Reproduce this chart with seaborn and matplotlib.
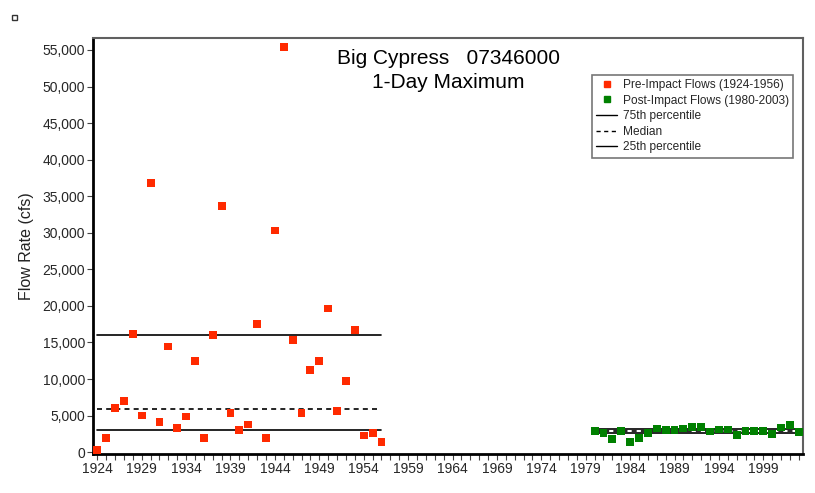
import numpy as np
import pandas as pd
import seaborn as sns
import matplotlib.pyplot as plt
from matplotlib.lines import Line2D
from matplotlib.patches import Rectangle
from matplotlib.ticker import FuncFormatter, MultipleLocator

# data
pre_years = list(range(1924, 1957))
pre_flow = [270, 1960, 6070, 6980, 16140, 5020, 36850, 4100, 14450, 3330,
            4880, 12450, 1960, 16000, 33650, 5330, 3050, 3790, 17510, 1960,
            30320, 55450, 15370, 5330, 11260, 12450, 19650, 5610, 9710, 16740,
            2280, 2600, 1370]
post_years = list(range(1980, 2004))
post_flow = [2870, 2600, 1780, 2870, 1370, 1960, 2650, 3240, 3050, 3050,
             3240, 3420, 3420, 2830, 3100, 3100, 2370, 2870, 2870, 2870,
             2460, 3370, 3690, 2740]

# 75th, median, 25th percentile levels
pre_pct = [16050, 5970, 3100]
post_pct = [3150, 2870, 2600]

pre_label = "Pre-Impact Flows (1924-1956)"
post_label = "Post-Impact Flows (1980-2003)"

df = pd.DataFrame({
    "Year": pre_years + post_years,
    "Flow": pre_flow + post_flow,
    "Period": [pre_label] * len(pre_years) + [post_label] * len(post_years),
})
colors = {pre_label: "#ff2a00", post_label: "#008000"}

sns.set_style("white")
plt.rcParams["font.family"] = ["Liberation Sans", "DejaVu Sans"]

fig, ax = plt.subplots(figsize=(8.15, 4.93), dpi=100)
fig.subplots_adjust(left=93.3 / 815, right=803 / 815, top=1 - 38.3 / 493, bottom=1 - 454 / 493)

sns.scatterplot(data=df, x="Year", y="Flow", hue="Period", palette=colors,
                marker="s", s=32, linewidth=0, legend=False, ax=ax, zorder=3)

# percentile lines for each period
for yrs, pct in [(pre_years, pre_pct), (post_years, post_pct)]:
    x0, x1 = yrs[0], yrs[-1]
    ax.plot([x0, x1], [pct[0], pct[0]], color="black", lw=1.2, zorder=2)
    ax.plot([x0, x1], [pct[1], pct[1]], color="black", lw=1.2, ls=(0, (3, 2.5)), zorder=2)
    ax.plot([x0, x1], [pct[2], pct[2]], color="black", lw=1.2, zorder=2)

ax.set_xlim(1923.55, 2003.47)
ax.set_ylim(-250, 56600)
ax.set_xticks(range(1924, 2004, 5))
ax.xaxis.set_minor_locator(MultipleLocator(1))
ax.set_yticks(range(0, 55001, 5000))
ax.yaxis.set_major_formatter(FuncFormatter(lambda v, p: f"{int(v):,}"))
ax.tick_params(axis="both", which="both", direction="out", length=4, width=0.8,
               color="#444444", labelsize=10, pad=2)
ax.tick_params(axis="x", which="both", bottom=True)
ax.tick_params(axis="y", left=True)

ax.set_xlabel("")
ax.set_ylabel("Flow Rate (cfs)", fontsize=11.5, color="#222222", labelpad=6)

for side in ["left", "bottom"]:
    ax.spines[side].set_color("black")
    ax.spines[side].set_linewidth(2)
for side in ["top", "right"]:
    ax.spines[side].set_color("#606060")
    ax.spines[side].set_linewidth(1.5)

ax.text(0.5, 1 - 11 / 415.7, "Big Cypress   07346000\n1-Day Maximum",
        transform=ax.transAxes, ha="center", va="top", fontsize=15,
        linespacing=1.3, color="black")

handles = [
    Line2D([], [], marker="s", color=colors[pre_label], ls="none", markersize=5),
    Line2D([], [], marker="s", color=colors[post_label], ls="none", markersize=5),
    Line2D([], [], color="black", lw=1),
    Line2D([], [], color="black", lw=1, ls=(0, (3, 2.5))),
    Line2D([], [], color="black", lw=1),
]
labels = [pre_label, post_label, "75th percentile", "Median", "25th percentile"]
leg = ax.legend(handles, labels, loc="upper right", bbox_to_anchor=(0.986, 0.912),
                borderaxespad=0, fontsize=8.6, frameon=True, fancybox=False,
                handlelength=1.7, handletextpad=0.5, labelspacing=0.3,
                borderpad=0.35)
leg.get_frame().set_edgecolor("#555555")
leg.get_frame().set_linewidth(1.2)

# small square in the top-left corner
fig.add_artist(Rectangle((12 / 815, 1 - 20 / 493), 5 / 815, 5 / 493,
                         transform=fig.transFigure, fill=False,
                         edgecolor="#333333", lw=1))

fig.savefig("out.png", dpi=100)
